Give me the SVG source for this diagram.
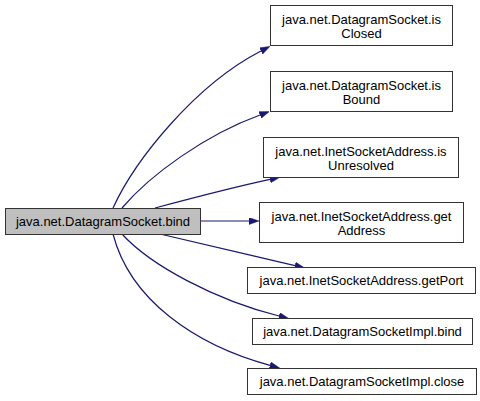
<svg xmlns="http://www.w3.org/2000/svg" width="480" height="401" viewBox="0 0 480 401">
<defs>
<style>
.box{fill:#ffffff;stroke:#333333;stroke-width:1}
.main{fill:#bfbfbf;stroke:#333333;stroke-width:1}
text{font-family:"Liberation Sans",Arial,Helvetica,sans-serif;font-size:13px;fill:#000000;text-anchor:middle}
.edge{fill:none;stroke:#191970;stroke-width:1.2;marker-end:url(#ah)}
</style>
<marker id="ah" viewBox="0 0 10 7" refX="0" refY="3.5" markerWidth="10" markerHeight="7" markerUnits="userSpaceOnUse" orient="auto">
<path d="M0,0 L10,3.5 L0,7 z" fill="#191970" stroke="#191970" stroke-width="0.5"/>
</marker>
</defs>
<rect width="480" height="401" fill="#ffffff"/>
<g id="connectors">
<path class="edge" d="M113,208 C135,160 195,85 261,51"/>
<path class="edge" d="M122,208 C150,175 205,135 260,115"/>
<path class="edge" d="M155,208 C185,200 230,188 270,179.4"/>
<path class="edge" d="M200,221 L249,221"/>
<path class="edge" d="M160,234 C200,243 250,255 295,265.7"/>
<path class="edge" d="M122,234 C150,265 215,300 279,316"/>
<path class="edge" d="M113,234 C130,300 195,345 270,365.4"/>
</g>
<g id="node-main">
<rect class="main" x="5.5" y="208.5" width="195" height="26"/>
<text x="103" y="226">java.net.DatagramSocket.bind</text>
</g>
<g id="node-isClosed">
<rect class="box" x="270.5" y="5.5" width="182" height="40"/>
<text x="361.5" y="24">java.net.DatagramSocket.is</text>
<text x="361.5" y="37.5">Closed</text>
</g>
<g id="node-isBound">
<rect class="box" x="270.5" y="71.5" width="182" height="40"/>
<text x="361.5" y="90">java.net.DatagramSocket.is</text>
<text x="361.5" y="103.5">Bound</text>
</g>
<g id="node-isUnresolved">
<rect class="box" x="263.5" y="137.5" width="195" height="40"/>
<text x="361" y="156">java.net.InetSocketAddress.is</text>
<text x="361" y="169.5">Unresolved</text>
</g>
<g id="node-getAddress">
<rect class="box" x="259.5" y="202.5" width="204" height="40"/>
<text x="361.5" y="221">java.net.InetSocketAddress.get</text>
<text x="361.5" y="234.5">Address</text>
</g>
<g id="node-getPort">
<rect class="box" x="247.5" y="267.5" width="228" height="26"/>
<text x="361.5" y="285">java.net.InetSocketAddress.getPort</text>
</g>
<g id="node-implBind">
<rect class="box" x="252.5" y="318.5" width="220" height="26"/>
<text x="362.5" y="336">java.net.DatagramSocketImpl.bind</text>
</g>
<g id="node-implClose">
<rect class="box" x="247.5" y="368.5" width="229" height="26"/>
<text x="362" y="386">java.net.DatagramSocketImpl.close</text>
</g>
</svg>
